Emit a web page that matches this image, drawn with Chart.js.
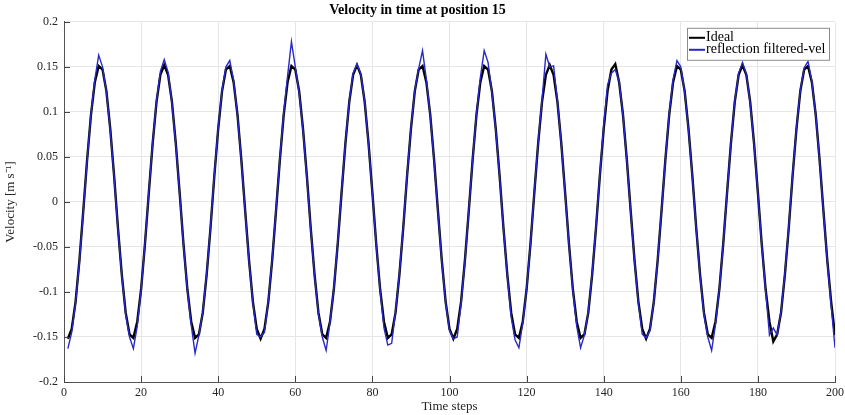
<!DOCTYPE html>
<html>
<head>
<meta charset="utf-8">
<script src="https://cdn.jsdelivr.net/npm/chart.js@4.4.1/dist/chart.umd.min.js"></script>
<style>
  html, body { margin: 0; padding: 0; background: #fff; }
  #wrap { width: 845px; height: 415px; }
</style>
</head>
<body>
<div id="wrap"><canvas id="velChart"></canvas></div>
<script>
// values, one per time step (1..200)
const ideal = [
  -0.152, -0.141, -0.111, -0.065, -0.010, 0.047, 0.097, 0.133, 0.151, 0.147,
  0.123, 0.081, 0.029, -0.029, -0.081, -0.123, -0.147, -0.151, -0.133, -0.097,
  -0.047, 0.010, 0.065, 0.111, 0.141, 0.152, 0.141, 0.111, 0.065, 0.010,
  -0.047, -0.097, -0.133, -0.151, -0.147, -0.123, -0.081, -0.029, 0.029, 0.081,
  0.123, 0.147, 0.151, 0.133, 0.097, 0.047, -0.010, -0.065, -0.111, -0.141,
  -0.152, -0.141, -0.111, -0.065, -0.010, 0.047, 0.097, 0.133, 0.151, 0.147,
  0.123, 0.081, 0.029, -0.029, -0.081, -0.123, -0.147, -0.151, -0.133, -0.097,
  -0.047, 0.010, 0.065, 0.111, 0.141, 0.152, 0.141, 0.111, 0.065, 0.010,
  -0.047, -0.097, -0.133, -0.151, -0.147, -0.123, -0.081, -0.029, 0.029, 0.081,
  0.123, 0.147, 0.151, 0.133, 0.097, 0.047, -0.010, -0.065, -0.111, -0.141,
  -0.152, -0.141, -0.111, -0.065, -0.010, 0.047, 0.097, 0.133, 0.151, 0.147,
  0.123, 0.081, 0.029, -0.029, -0.081, -0.123, -0.147, -0.151, -0.133, -0.097,
  -0.047, 0.010, 0.065, 0.111, 0.141, 0.152, 0.141, 0.111, 0.065, 0.010,
  -0.047, -0.097, -0.133, -0.151, -0.147, -0.123, -0.081, -0.029, 0.029, 0.081,
  0.123, 0.147, 0.153, 0.133, 0.097, 0.047, -0.010, -0.065, -0.111, -0.141,
  -0.152, -0.141, -0.111, -0.065, -0.010, 0.047, 0.097, 0.133, 0.151, 0.147,
  0.123, 0.081, 0.029, -0.029, -0.081, -0.123, -0.147, -0.151, -0.133, -0.097,
  -0.047, 0.010, 0.065, 0.111, 0.141, 0.152, 0.141, 0.111, 0.065, 0.010,
  -0.047, -0.097, -0.133, -0.155, -0.147, -0.123, -0.081, -0.029, 0.029, 0.081,
  0.123, 0.147, 0.151, 0.133, 0.097, 0.047, -0.010, -0.065, -0.111, -0.148
];

const filtered = [
  -0.163, -0.145, -0.112, -0.066, -0.011, 0.046, 0.098, 0.136, 0.163, 0.150,
  0.122, 0.080, 0.028, -0.030, -0.082, -0.125, -0.150, -0.163, -0.138, -0.098,
  -0.046, 0.011, 0.066, 0.112, 0.145, 0.158, 0.144, 0.110, 0.064, 0.009,
  -0.048, -0.098, -0.137, -0.168, -0.148, -0.122, -0.080, -0.028, 0.030, 0.082,
  0.124, 0.150, 0.157, 0.135, 0.096, 0.046, -0.011, -0.066, -0.112, -0.147,
  -0.150, -0.145, -0.110, -0.064, -0.009, 0.048, 0.099, 0.140, 0.178, 0.150,
  0.121, 0.080, 0.027, -0.030, -0.082, -0.124, -0.150, -0.165, -0.134, -0.096,
  -0.046, 0.011, 0.066, 0.112, 0.143, 0.153, 0.142, 0.112, 0.064, 0.009,
  -0.048, -0.098, -0.140, -0.159, -0.157, -0.122, -0.080, -0.028, 0.030, 0.082,
  0.124, 0.148, 0.168, 0.136, 0.096, 0.046, -0.011, -0.066, -0.112, -0.143,
  -0.152, -0.150, -0.113, -0.066, -0.010, 0.047, 0.098, 0.138, 0.168, 0.155,
  0.122, 0.080, 0.028, -0.030, -0.082, -0.128, -0.153, -0.162, -0.135, -0.097,
  -0.047, 0.011, 0.066, 0.113, 0.164, 0.150, 0.151, 0.112, 0.064, 0.009,
  -0.048, -0.098, -0.138, -0.162, -0.148, -0.122, -0.080, -0.028, 0.030, 0.085,
  0.130, 0.143, 0.147, 0.134, 0.097, 0.046, -0.011, -0.066, -0.112, -0.147,
  -0.151, -0.143, -0.111, -0.065, -0.010, 0.047, 0.098, 0.136, 0.157, 0.150,
  0.122, 0.080, 0.028, -0.030, -0.082, -0.125, -0.150, -0.165, -0.136, -0.097,
  -0.047, 0.010, 0.065, 0.112, 0.143, 0.155, 0.142, 0.110, 0.064, 0.009,
  -0.048, -0.098, -0.148, -0.140, -0.148, -0.122, -0.080, -0.028, 0.030, 0.082,
  0.124, 0.149, 0.156, 0.134, 0.097, 0.046, -0.011, -0.066, -0.115, -0.162
];

const steps = ideal.map((_, i) => i + 1);
const xTicks = [0, 20, 40, 60, 80, 100, 120, 140, 160, 180, 200];
const yTicks = [-0.2, -0.15, -0.1, -0.05, 0, 0.05, 0.1, 0.15, 0.2];

const serif = "'Liberation Serif', 'Times New Roman', serif";

// MATLAB-like legend box in the upper right of the plot
const boxLegend = {
  id: 'boxLegend',
  afterDraw(chart) {
    const { ctx, chartArea } = chart;
    const right = chartArea.right - 6, top = chartArea.top + 6;
    const w = 142, h = 32;
    const left = right - w;
    ctx.save();
    ctx.fillStyle = '#fff';
    ctx.fillRect(left, top, w, h);
    ctx.strokeStyle = '#8c8c8c';
    ctx.lineWidth = 1;
    ctx.strokeRect(left + 0.5, top + 0.5, w, h);
    ctx.font = '14px ' + serif;
    ctx.textBaseline = 'middle';
    chart.data.datasets.forEach((ds, i) => {
      const y = top + 10 + i * 12;
      ctx.strokeStyle = ds.borderColor;
      ctx.lineWidth = 2;
      ctx.beginPath();
      ctx.moveTo(left + 2, y);
      ctx.lineTo(left + 18, y);
      ctx.stroke();
      ctx.fillStyle = '#000';
      ctx.fillText(ds.label, left + 19, y);
    });
    ctx.restore();
  }
};

// short tick marks pointing into the plot
const innerTicks = {
  id: 'innerTicks',
  afterDatasetsDraw(chart) {
    const { ctx, chartArea, scales } = chart;
    ctx.save();
    ctx.strokeStyle = '#444';
    ctx.lineWidth = 1;
    ctx.beginPath();
    xTicks.forEach(v => {
      const x = Math.round(scales.x.getPixelForValue(v)) + 0.5;
      ctx.moveTo(x, chartArea.bottom);
      ctx.lineTo(x, chartArea.bottom - 6);
    });
    yTicks.forEach(v => {
      const y = Math.round(scales.y.getPixelForValue(v)) + 0.5;
      ctx.moveTo(chartArea.left, y);
      ctx.lineTo(chartArea.left + 6, y);
    });
    ctx.stroke();
    ctx.restore();
  }
};

const ctx = document.getElementById('velChart').getContext('2d');
const velChart = new Chart(ctx, {
  type: 'line',
  data: {
    datasets: [{
      label: 'Ideal',
      data: steps.map((s, i) => ({ x: s, y: ideal[i] })),
      borderColor: '#000000',
      borderWidth: 2.4,
      pointRadius: 0,
      tension: 0,
      order: 1
    }, {
      label: 'reflection filtered-vel',
      data: steps.map((s, i) => ({ x: s, y: filtered[i] })),
      borderColor: '#2828c8',
      borderWidth: 1.4,
      pointRadius: 0,
      tension: 0,
      order: 0
    }]
  },
  options: {
    responsive: true,
    maintainAspectRatio: false,
    animation: false,
    layout: { padding: { left: 0, right: 10, top: 0, bottom: 0 } },
    scales: {
      x: {
        type: 'linear',
        min: 0,
        max: 200,
        afterBuildTicks: axis => { axis.ticks = xTicks.map(v => ({ value: v })); },
        afterFit: axis => {
          axis.height = 33;
          axis.paddingRight = 0;
          axis.paddingLeft = 0;
        },
        ticks: {
          padding: 4,
          color: '#262626',
          font: { family: serif, size: 12 },
          maxRotation: 0
        },
        grid: { color: '#e6e6e6', drawTicks: false },
        border: { color: '#555', width: 1 },
        title: {
          display: true,
          text: 'Time steps',
          color: '#262626',
          font: { family: serif, size: 13 },
          padding: { top: 0, bottom: 1 }
        }
      },
      y: {
        min: -0.2,
        max: 0.2,
        afterBuildTicks: axis => { axis.ticks = yTicks.map(v => ({ value: v })); },
        afterFit: axis => { axis.width = 64; },
        ticks: {
          padding: 6,
          color: '#262626',
          font: { family: serif, size: 12 },
          callback: v => String(Number(v.toFixed(2)))
        },
        grid: { color: '#e6e6e6', drawTicks: false },
        border: { color: '#555', width: 1 },
        title: {
          display: true,
          text: 'Velocity [m s\u207B\u00B9]',
          color: '#262626',
          font: { family: serif, size: 13 },
          padding: { top: 3, bottom: 0 }
        }
      }
    },
    plugins: {
      legend: { display: false },
      tooltip: { enabled: false },
      title: {
        display: true,
        text: 'Velocity in time at position 15',
        color: '#000',
        font: { family: serif, size: 14, weight: 'bold' },
        padding: { top: 2, bottom: 3 }
      }
    }
  },
  plugins: [innerTicks, boxLegend]
});
</script>
</body>
</html>
